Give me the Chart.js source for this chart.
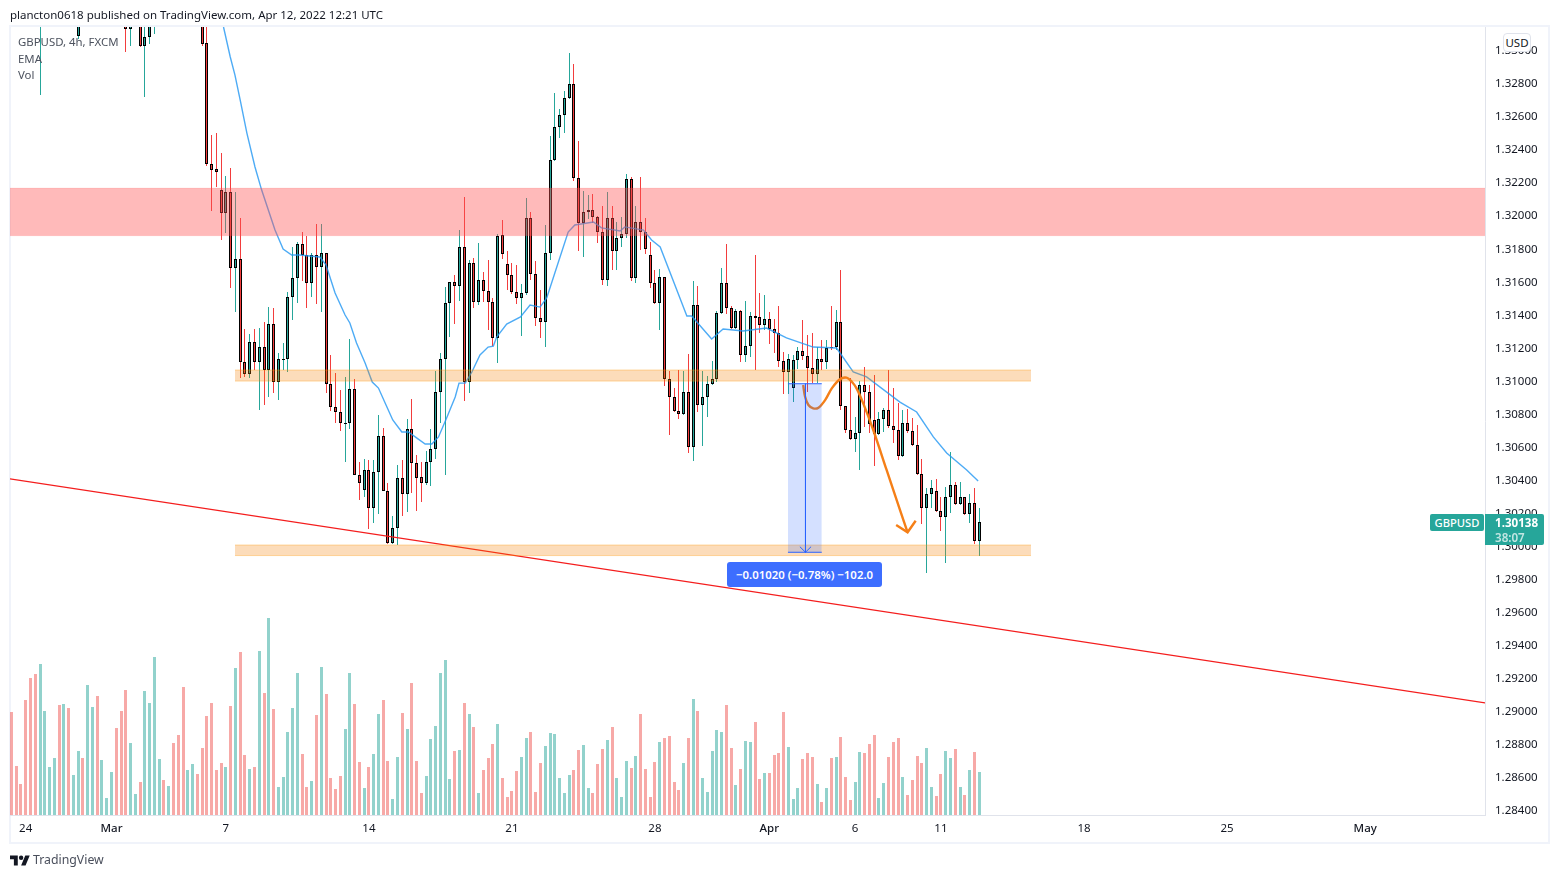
<!DOCTYPE html>
<html><head><meta charset="utf-8">
<style>
html,body{margin:0;padding:0;background:#fff;width:1559px;height:878px;overflow:hidden;font-family:"Noto Sans",sans-serif}
#wrap{position:relative;width:1559px;height:878px}
canvas{position:absolute;left:0;top:0}
.t{position:absolute;white-space:nowrap;font-size:12px;line-height:16px}
#frame{position:absolute;left:9px;top:25px;width:1537px;height:815px;border:2px solid #f0f3fa}
</style>
<script src="https://cdn.jsdelivr.net/npm/chart.js@4"></script>
</head><body><div id="wrap">
<div id="frame"></div>
<canvas id="c" width="1559" height="878"></canvas>
<div class="t" style="left:10px;top:7px;color:#131722;font-size:11.5px">plancton0618 published on TradingView.com, Apr 12, 2022 12:21 UTC</div>
<div class="t" style="left:18px;top:34px;color:#4c525e;font-size:11.4px">GBPUSD, 4h, FXCM</div>
<div class="t" style="left:18px;top:51px;color:#4c525e;font-size:11.4px">EMA</div>
<div class="t" style="left:18px;top:67px;color:#4c525e;font-size:11.4px">Vol</div>
<div class="t" style="left:1503px;top:33px;width:26px;height:17px;border:1px solid #e0e3eb;border-radius:4px;background:#fff;text-align:center;color:#131722;line-height:17px;font-size:11.5px">USD</div>
<div class="t" id="tagName" style="left:1430px;width:54px;height:17px;background:#26a69a;border-radius:2px;color:#fff;text-align:center;line-height:17px;font-weight:500;font-size:11.2px">GBPUSD</div>
<div class="t" id="tagPrice" style="left:1485px;width:59px;height:31px;background:#26a69a;border-radius:0 2px 2px 0;color:#fff;text-align:left;padding-left:10px;font-size:11.6px;font-weight:700;line-height:15px;padding-top:1px;box-sizing:border-box">1.30138<br><span style="font-weight:600;color:rgba(255,255,255,.72)">38:07</span></div>
<div class="t" id="pill" style="width:155px;height:25px;background:#3d6eff;border-radius:3px;color:#fff;text-align:center;line-height:25px;font-weight:600;font-size:11.4px">−0.01020 (−0.78%) −102.0</div>
<svg style="position:absolute;left:10px;top:853px" width="20" height="16" viewBox="0 0 36 28"><path fill="#131722" d="M14 22H7V11H0V4h14v18zM28 22h-8l7.5-18h8L28 22z"/><circle fill="#131722" cx="20" cy="8" r="4"/></svg>
<div class="t" style="left:33px;top:851px;color:#4a4f5c;font-size:12.3px;line-height:18px">TradingView</div>
</div>
<script>
const opens=[1.34400,1.34200,1.34120,1.34000,1.33800,1.33650,1.33500,1.33620,1.33700,1.33760,
1.33830,1.33700,1.33790,1.33640,1.33078,1.33500,1.33350,1.33480,1.33570,1.33400,
1.33520,1.33640,1.33780,1.33600,1.33400,1.33121,1.33300,1.33420,1.33018,1.33072,
1.33240,1.33380,1.33500,1.33380,1.33480,1.33350,1.33400,1.33280,1.33400,1.33520,
1.33300,1.33036,1.32303,1.32273,1.32146,1.32007,1.32134,1.31674,1.31729,1.31105,
1.31033,1.31227,1.31105,1.31196,1.31057,1.31335,1.30984,1.31118,1.31124,1.31499,
1.31614,1.31820,1.31753,1.31584,1.31753,1.31680,1.31765,1.30972,1.30833,1.30803,
1.30730,1.30736,1.30942,1.30422,1.30331,1.30452,1.30222,1.30440,1.30658,1.30325,
1.30010,1.30101,1.30404,1.30307,1.30700,1.30494,1.30409,1.30373,1.30500,1.30579,
1.30924,1.31124,1.31463,1.31590,1.31565,1.31802,1.30984,1.31705,1.31469,1.31602,
1.31535,1.31469,1.31251,1.31874,1.31699,1.31632,1.31529,1.31493,1.31523,1.31977,
1.31638,1.31372,1.31348,1.31765,1.32328,1.32528,1.32600,1.32703,1.32788,1.32219,
1.31947,1.32013,1.32025,1.31983,1.31892,1.31602,1.31977,1.31777,1.31856,1.31880,
1.32213,1.31614,1.31953,1.31892,1.31753,1.31584,1.31463,1.31620,1.31003,1.30894,
1.30809,1.30791,1.30924,1.30591,1.31450,1.30845,1.30894,1.30972,1.31003,1.31402,
1.31584,1.31432,1.31311,1.31414,1.31148,1.31202,1.31384,1.31378,1.31329,1.31366,
1.31305,1.31281,1.31111,1.31045,1.30948,1.31118,1.31172,1.31142,1.31069,1.31033,
1.31124,1.31105,1.31196,1.31196,1.31348,1.30839,1.30694,1.30640,1.30676,1.30966,
1.30924,1.30755,1.30670,1.30760,1.30815,1.30718,1.30694,1.30537,1.30736,1.30688,
1.30603,1.30428,1.30222,1.30307,1.30325,1.30204,1.30167,1.30288,1.30361,1.30246,
1.30288,1.30186,1.30252,1.30022];
const closes=[1.34200,1.34120,1.34000,1.33800,1.33650,1.33500,1.33620,1.33700,1.33760,1.33830,
1.33700,1.33790,1.33640,1.33720,1.33500,1.33350,1.33480,1.33570,1.33400,1.33520,
1.33640,1.33780,1.33600,1.33400,1.33121,1.33300,1.33420,1.33018,1.33072,1.33240,
1.33380,1.33500,1.33380,1.33480,1.33350,1.33260,1.33280,1.33400,1.33520,1.33300,
1.33030,1.32303,1.32267,1.32255,1.32007,1.32134,1.31674,1.31729,1.31105,1.31033,
1.31227,1.31105,1.31196,1.31057,1.31335,1.30984,1.31124,1.31124,1.31499,1.31614,
1.31820,1.31753,1.31584,1.31753,1.31680,1.31765,1.30972,1.30833,1.30803,1.30736,
1.30736,1.30942,1.30422,1.30373,1.30452,1.30222,1.30440,1.30658,1.30325,1.30010,
1.30101,1.30404,1.30307,1.30700,1.30494,1.30404,1.30373,1.30500,1.30579,1.30924,
1.31124,1.31463,1.31590,1.31565,1.31802,1.30984,1.31705,1.31469,1.31602,1.31535,
1.31469,1.31251,1.31868,1.31759,1.31632,1.31529,1.31493,1.31523,1.31977,1.31638,
1.31372,1.31348,1.31765,1.32328,1.32528,1.32600,1.32703,1.32788,1.32219,1.31947,
1.32013,1.32025,1.31983,1.31892,1.31602,1.31977,1.31777,1.31856,1.31880,1.32213,
1.31614,1.31953,1.31892,1.31789,1.31584,1.31463,1.31620,1.31003,1.30894,1.30809,
1.30791,1.30924,1.30591,1.31450,1.30845,1.30894,1.30972,1.31003,1.31402,1.31584,
1.31432,1.31311,1.31414,1.31148,1.31202,1.31384,1.31372,1.31329,1.31366,1.31305,
1.31281,1.31111,1.31045,1.31124,1.31118,1.31172,1.31142,1.31069,1.31033,1.31124,
1.31105,1.31190,1.31190,1.31348,1.30839,1.30694,1.30640,1.30676,1.30966,1.30924,
1.30730,1.30670,1.30760,1.30815,1.30718,1.30694,1.30537,1.30736,1.30688,1.30603,
1.30428,1.30222,1.30307,1.30343,1.30204,1.30167,1.30288,1.30361,1.30246,1.30288,
1.30186,1.30252,1.30022,1.30138];
const highs=[1.34520,1.34280,1.34210,1.34090,1.33870,1.33720,1.33680,1.33780,1.33850,1.33900,
1.33880,1.33840,1.33830,1.33790,1.33600,1.33560,1.33540,1.33630,1.33610,1.33580,
1.33700,1.33830,1.33820,1.33650,1.33460,1.33380,1.33480,1.33470,1.33160,1.33300,
1.33440,1.33560,1.33540,1.33560,1.33520,1.33410,1.33450,1.33470,1.33590,1.33570,
1.33360,1.33175,1.32479,1.32491,1.32370,1.32231,1.32280,1.32134,1.31977,1.31305,
1.31275,1.31305,1.31311,1.31348,1.31438,1.31432,1.31160,1.31221,1.31529,1.31802,
1.31832,1.31892,1.31868,1.31765,1.31941,1.31941,1.31765,1.31148,1.31039,1.30936,
1.31015,1.31245,1.31003,1.30500,1.30518,1.30512,1.30512,1.30785,1.30706,1.30373,
1.30173,1.30482,1.30512,1.30760,1.30881,1.30543,1.30500,1.30567,1.30700,1.31051,
1.31160,1.31559,1.31590,1.31632,1.31904,1.32104,1.31723,1.31735,1.31826,1.31650,
1.31723,1.31493,1.31880,1.31965,1.31777,1.31705,1.31693,1.31578,1.32098,1.32013,
1.31717,1.31541,1.31935,1.32473,1.32733,1.32637,1.32746,1.32976,1.32909,1.32443,
1.32140,1.32116,1.32122,1.31989,1.32050,1.32134,1.32050,1.31953,1.31983,1.32243,
1.32225,1.32050,1.32225,1.31977,1.31832,1.31662,1.31668,1.31620,1.31051,1.30948,
1.31057,1.31051,1.31154,1.31596,1.31565,1.31051,1.31021,1.31111,1.31414,1.31674,
1.31820,1.31444,1.31426,1.31420,1.31475,1.31408,1.31753,1.31523,1.31511,1.31408,
1.31366,1.31444,1.31166,1.31154,1.31148,1.31196,1.31360,1.31269,1.31281,1.31196,
1.31239,1.31239,1.31444,1.31420,1.31662,1.30839,1.31009,1.30773,1.30990,1.31075,
1.30966,1.31027,1.30803,1.30827,1.31057,1.30948,1.30857,1.30815,1.30821,1.30766,
1.30724,1.30518,1.30343,1.30392,1.30398,1.30288,1.30349,1.30561,1.30379,1.30379,
1.30288,1.30307,1.30343,1.30222];
const lows=[1.34150,1.34050,1.33950,1.33750,1.33600,1.33420,1.32721,1.33560,1.33650,1.33700,
1.33650,1.33640,1.33580,1.33540,1.33060,1.33250,1.33280,1.33420,1.33340,1.33350,
1.33470,1.33600,1.33540,1.33330,1.32982,1.33018,1.33240,1.33012,1.32709,1.33030,
1.33091,1.33320,1.33300,1.33320,1.33280,1.33180,1.33220,1.33230,1.33350,1.33220,
1.33018,1.32292,1.32019,1.32165,1.31844,1.31886,1.31553,1.31408,1.31009,1.31015,
1.31009,1.31057,1.30815,1.30845,1.30894,1.30918,1.30875,1.31057,1.31045,1.31360,
1.31463,1.31596,1.31432,1.31499,1.31456,1.31408,1.30918,1.30809,1.30736,1.30688,
1.30500,1.30700,1.30420,1.30270,1.30288,1.30095,1.30131,1.30186,1.30325,1.30005,
1.30005,1.29998,1.30173,1.30198,1.30313,1.30204,1.30258,1.30361,1.30355,1.30518,
1.30736,1.30422,1.31257,1.31335,1.31475,1.30869,1.30918,1.31432,1.31450,1.31469,
1.31299,1.31202,1.31099,1.31729,1.31541,1.31517,1.31456,1.31263,1.31511,1.31602,
1.31323,1.31251,1.31196,1.31723,1.32322,1.32461,1.32491,1.32697,1.32201,1.31777,
1.31741,1.31971,1.31947,1.31826,1.31572,1.31565,1.31662,1.31662,1.31802,1.31856,
1.31596,1.31584,1.31783,1.31759,1.31553,1.31456,1.31299,1.30960,1.30664,1.30803,
1.30760,1.30785,1.30555,1.30506,1.30803,1.30597,1.30773,1.30966,1.30984,1.31396,
1.31396,1.31305,1.31305,1.31105,1.31105,1.31136,1.31057,1.31281,1.31299,1.31214,
1.31160,1.31075,1.30912,1.30912,1.30863,1.31063,1.31118,1.30924,1.30978,1.30978,
1.31057,1.31063,1.31178,1.31178,1.30815,1.30676,1.30634,1.30561,1.30452,1.30712,
1.30676,1.30476,1.30664,1.30682,1.30706,1.30615,1.30512,1.30531,1.30676,1.30597,
1.30422,1.30125,1.29829,1.30222,1.30198,1.30083,1.29889,1.30192,1.30240,1.30240,
1.30180,1.30131,1.30004,1.29931];
const volumes=[103,49,31,115,137,141,151,104,48,57,110,111,107,40,64,57,130,108,119,55,17,43,87,104,125,72,21,33,124,112,158,56,35,29,72,80,128,45,51,41,67,99,112,45,52,48,109,147,163,60,46,48,164,122,197,106,28,38,83,107,142,61,28,34,100,148,121,37,26,39,86,142,111,53,27,48,61,101,115,54,16,58,102,86,132,54,22,39,76,89,142,155,36,64,65,112,101,88,22,45,57,71,91,
37,18,24,44,58,77,83,23,52,69,82,81,37,22,40,45,65,70,27,22,51,66,75,88,37,18,54,47,59,101,46,18,53,73,77,79,33,25,52,77,116,104,37,23,64,85,83,110,67,30,46,74,73,93,36,42,42,60,62,103,68,16,27,56,62,58,31,13,27,57,58,78,38,15,33,63,62,71,80,17,32,58,73,77,38,20,35,59,52,67,28,19,41,64,57,66,28,20,45,63,43];
const emaIdx=[44.5,45.9,46.9,48.0,49.4,51.1,52.5,53.9,55.3,57.0,58.8,60.5,62.6,64.7,66.0,67.9,70.0,71.0,72.4,74.2,75.7,77.0,78.4,80.0,81.9,83.3,85.0,86.8,88.2,89.6,91.3,93.1,93.9,95.2,96.6,98.3,100.0,101.1,101.8,103.9,106.8,108.8,110.9,112.3,114.0,116.8,118.2,122.1,123.8,127.7,128.7,132.6,134.3,136.1,141.7,142.7,146.9,149.3,153.5,158.4,162.6,168.2,173.1,176.6,179.4,186.4,189.9,193.4,196.2,200.4,202.8];
const emaVal=[1.33133,1.32953,1.32842,1.32691,1.32491,1.32286,1.32146,1.32025,1.31904,1.31789,1.31753,1.31753,1.31747,1.31741,1.31693,1.31523,1.31390,1.31342,1.31221,1.31099,1.30984,1.30948,1.30857,1.30755,1.30682,1.30682,1.30646,1.30609,1.30609,1.30652,1.30767,1.30894,1.30978,1.30978,1.31045,1.31148,1.31196,1.31202,1.31257,1.31335,1.31378,1.31450,1.31438,1.31493,1.31644,1.31892,1.31935,1.31953,1.31917,1.31898,1.31923,1.31904,1.31844,1.31802,1.31384,1.31384,1.31245,1.31305,1.31293,1.31311,1.31251,1.31196,1.31190,1.31045,1.31015,1.30863,1.30803,1.30652,1.30555,1.30452,1.30385];
const trendIdx=[-0.3,309.2];
const trendVal=[1.30398,1.29042];
const zoneFrom=[-0.3,46.9,46.9];
const zoneTo=[309.2,213.9,213.9];
const zoneHigh=[1.32158,1.31057,1.29998];
const zoneLow=[1.31870,1.30990,1.29934];
const measureFrom=162.9, measureTo=170.0, measureMid=166.58;
const measureHigh=1.30974, measureLow=1.29954;
const chevronIdx=[165.4,166.58,167.76];
const chevronVal=[1.29988,1.29954,1.29988];
const curveIdx=[166.1,166.5,167.2,168.2,169.3,170.7,172.1,173.8,175.2,176.3,177.3,178.7,180.8,183.6,186.4,188.0];
const curveVal=[1.30966,1.30895,1.30845,1.30825,1.30829,1.30875,1.30946,1.31001,1.31011,1.30986,1.30946,1.30855,1.30694,1.30452,1.30210,1.30075];
const headIdx=[185.6,188.0,189.7];
const headVal=[1.30119,1.30075,1.30145];
const tickIdx=[3,21,45,75,105,135,159,177,195,225,255,284];
const tickLabels=['24','Mar','7','14','21','28','Apr','6','11','18','25','May'];
const monthTicks=['Mar','Apr','May'];
const lastPrice=1.30138;

const GREEN='#26a69a',RED='#f23d3d';
const pts=(xs,ys)=>xs.map((x,i)=>({x,y:ys[i]}));
const idx=opens.map((_,i)=>i);
const isUp=i=>closes[i]>=opens[i];
const line=(xs,ys,color,width,order,extra)=>Object.assign({type:'line',data:pts(xs,ys),borderColor:color,borderWidth:width,pointRadius:0,fill:false,order,tension:0,yAxisID:'y',xAxisID:'x'},extra||{});

const datasets=[
 {type:'bar',yAxisID:'vol',data:idx.map(i=>({x:i,y:volumes[i]})),backgroundColor:idx.map(i=>isUp(i)?'rgba(38,166,154,.5)':'rgba(239,83,80,.5)'),barThickness:3,grouped:false,order:90,inflateAmount:0,borderWidth:0},
 {type:'bar',yAxisID:'y',data:idx.map(i=>({x:i,y:[lows[i],highs[i]]})),backgroundColor:idx.map(i=>isUp(i)?GREEN:RED),barThickness:1,grouped:false,order:80,inflateAmount:0,borderWidth:0},
 {type:'bar',yAxisID:'y',data:idx.map(i=>({x:i,y:[Math.min(opens[i],closes[i]),Math.max(opens[i],closes[i])]})),backgroundColor:idx.map(i=>isUp(i)?GREEN:RED),borderColor:'#000',borderWidth:1,borderSkipped:false,barThickness:3,grouped:false,order:70,inflateAmount:0},
 line(emaIdx,emaVal,'rgba(33,150,243,.8)',1.4,60),
 line(trendIdx,trendVal,'#f41d1d',1.2,55),
];
const zoneColors=[['rgba(255,82,82,.4)','rgba(255,82,82,.12)'],['rgba(245,124,0,.27)','rgba(255,152,0,.35)'],['rgba(245,124,0,.27)','rgba(255,152,0,.35)']];
zoneHigh.forEach((h,k)=>{
 datasets.push(line([zoneFrom[k],zoneTo[k]],[h,h],zoneColors[k][1],1,50-k,{fill:{value:zoneLow[k]},backgroundColor:zoneColors[k][0]}));
 datasets.push(line([zoneFrom[k],zoneTo[k]],[zoneLow[k],zoneLow[k]],zoneColors[k][1],1,50-k));
});
datasets.push(line(curveIdx,curveVal,'#f57f17',2.4,30,{tension:0.35}));
datasets.push(line(headIdx,headVal,'#f57f17',2.4,29));
datasets.push(line([measureFrom,measureTo],[measureHigh,measureHigh],'#2962ff',1,20,{fill:{value:measureLow},backgroundColor:'rgba(41,98,255,.2)'}));
datasets.push(line([measureFrom,measureTo],[measureLow,measureLow],'#2962ff',1,19));
datasets.push(line([measureMid,measureMid],[measureHigh,measureLow],'#2962ff',1,18));
datasets.push(line(chevronIdx,chevronVal,'#2962ff',1,17));

const crisp={id:'crisp',beforeDatasetsDraw(ch){
 ch.data.datasets.forEach((d,n)=>{
  if(d.type!=='bar')return;
  ch.getDatasetMeta(n).data.forEach(el=>{
   el.x=Math.floor(el.x)+.5;
   el.y=Math.round(el.y);
   el.base=Math.round(el.base);
   if(el.y===el.base)el.base=el.y+1;
  });
 });
}};

const FONT={family:'"Noto Sans",sans-serif',size:11.5};
const chart=new Chart(document.getElementById('c'),{
 type:'bar',
 data:{datasets},
 plugins:[crisp],
 options:{
  responsive:false,animation:false,devicePixelRatio:1,
  layout:{padding:{left:10,right:10,top:27,bottom:35}},
  plugins:{legend:{display:false},tooltip:{enabled:false},title:{display:false}},
  scales:{
   x:{type:'linear',offset:false,min:-0.2937,max:309.13,
      grid:{display:false,drawTicks:false},border:{display:true,color:'#e0e3eb',width:1},
      afterBuildTicks(s){s.ticks=tickIdx.map(v=>({value:v}));},
      afterFit(s){s.height=28;},
      ticks:{autoSkip:false,maxRotation:0,minRotation:0,padding:7,color:'#131722',
        font(ctx){const k=tickIdx.indexOf(ctx.tick&&ctx.tick.value);return Object.assign({},FONT,{weight:monthTicks.includes(tickLabels[k])?'500':'400'});},
        callback(v){const k=tickIdx.indexOf(v);return k<0?'':tickLabels[k];}}},
   y:{type:'linear',position:'right',min:1.28364,max:1.33133,
      grid:{display:false,drawTicks:false},border:{display:true,color:'#e0e3eb',width:1},
      afterFit(s){s.width=64;},
      ticks:{stepSize:0.002,includeBounds:false,autoSkip:false,padding:10,labelOffset:2,color:'#131722',font:FONT,
        callback(v){return v.toFixed(5);}}},
   vol:{type:'linear',display:false,min:0,max:788}
  }
 }
});
const Y=chart.scales.y,X=chart.scales.x;
const py=Y.getPixelForValue(lastPrice);
document.getElementById('tagName').style.top=Math.round(py-8)+'px';
document.getElementById('tagPrice').style.top=Math.round(py-8)+'px';
const pill=document.getElementById('pill');
pill.style.left=Math.round(X.getPixelForValue(measureMid)-78.5)+'px';
pill.style.top=Math.round(Y.getPixelForValue(measureLow)+10)+'px';
</script></body></html>
